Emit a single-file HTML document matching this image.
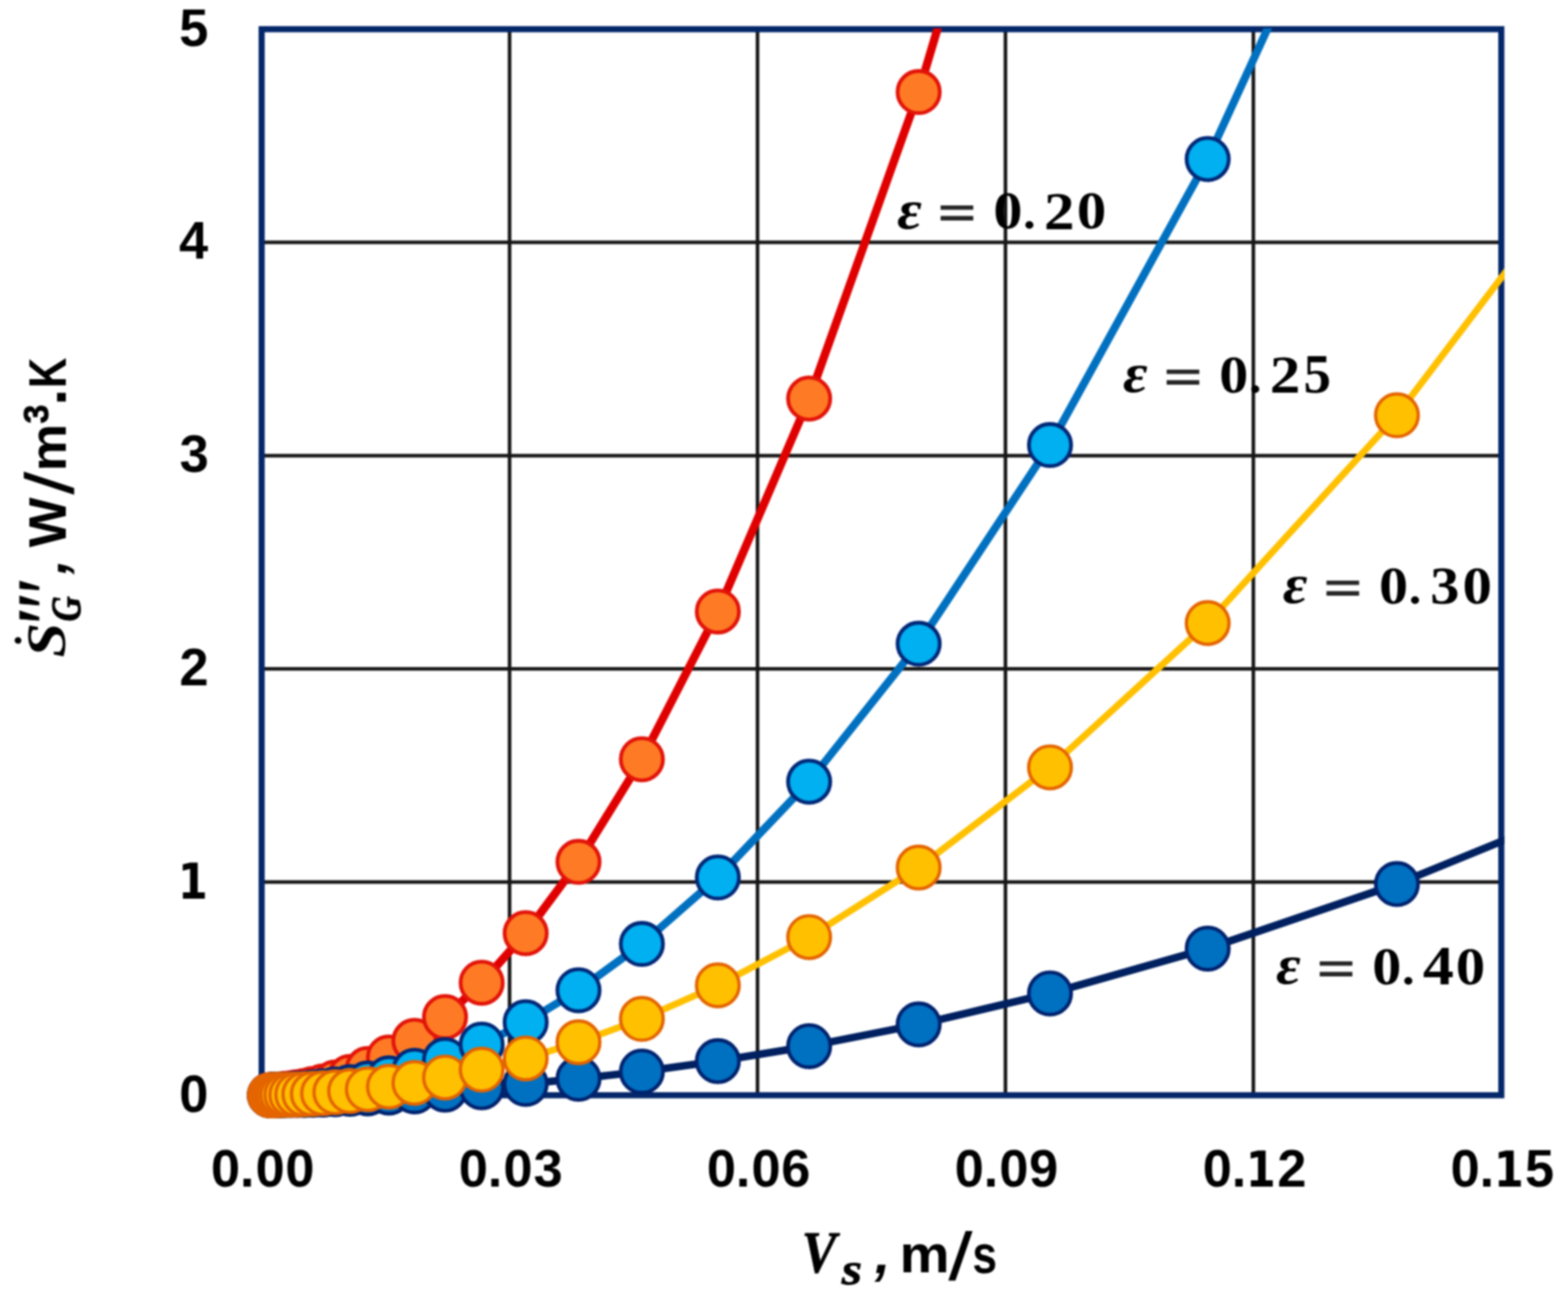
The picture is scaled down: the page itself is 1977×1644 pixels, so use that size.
<!DOCTYPE html>
<html lang="en">
<head>
<meta charset="utf-8">
<title>Entropy generation rate versus superficial velocity</title>
<style>
html,body{margin:0;padding:0;background:#fff;}
body{width:1977px;height:1644px;overflow:hidden;}
svg{display:block;filter:blur(1.20px);}
text{fill:#000;}
.sb{font-family:"Liberation Sans",sans-serif;font-weight:bold;font-style:normal;}
.sbi{font-family:"Liberation Sans",sans-serif;font-weight:bold;font-style:italic;}
.rb{font-family:"Liberation Serif",serif;font-weight:bold;font-style:normal;}
.rbi{font-family:"Liberation Serif",serif;font-weight:bold;font-style:italic;}
.ds{font-family:"DejaVu Sans",sans-serif;font-weight:normal;font-style:normal;}
.dsb{font-family:"DejaVu Sans",sans-serif;font-weight:bold;font-style:normal;}
</style>
</head>
<body>
<svg width="1977" height="1644" viewBox="0 0 1977 1644">
<defs><clipPath id="plot"><rect x="328.9" y="35.8" width="1568.0" height="1346.0"/></clipPath></defs>
<rect x="-20" y="-20" width="2017" height="1684" fill="#fff"/>
<g id="grid" stroke="#161616" stroke-width="4.5" fill="none">
<line x1="642.5" y1="36.8" x2="642.5" y2="1380.8"/>
<line x1="955.1" y1="36.8" x2="955.1" y2="1380.8"/>
<line x1="1267.7" y1="36.8" x2="1267.7" y2="1380.8"/>
<line x1="1580.3" y1="36.8" x2="1580.3" y2="1380.8"/>
<line x1="329.9" y1="1112.0" x2="1892.9" y2="1112.0"/>
<line x1="329.9" y1="843.2" x2="1892.9" y2="843.2"/>
<line x1="329.9" y1="574.4" x2="1892.9" y2="574.4"/>
<line x1="329.9" y1="305.6" x2="1892.9" y2="305.6"/>
</g>
<rect id="frame" x="329.9" y="36.8" width="1563.0" height="1344.0" fill="none" stroke="#04276A" stroke-width="7.7"/>
<g id="labels">
<text><tspan class="rbi" x="1131.3" y="287.6" font-size="69.2" textLength="31.0" lengthAdjust="spacingAndGlyphs">ε</tspan> <tspan fill="#262626" class="ds" x="1179.1" y="290.2" font-size="67.3" textLength="55.1" lengthAdjust="spacingAndGlyphs">=</tspan> <tspan class="rb" x="1252.5" y="288.4" font-size="68.3" textLength="36.6" lengthAdjust="spacingAndGlyphs">0</tspan><tspan class="rb" x="1290.0" y="288.2" font-size="59.7" textLength="15.8" lengthAdjust="spacingAndGlyphs">.</tspan><tspan class="rb" x="1316.2" y="288.5" font-size="68.4" textLength="38.6" lengthAdjust="spacingAndGlyphs">2</tspan><tspan class="rb" x="1357.7" y="288.4" font-size="68.3" textLength="37.1" lengthAdjust="spacingAndGlyphs">0</tspan></text>
<text><tspan class="rbi" x="1416.1" y="494.4" font-size="69.2" textLength="31.0" lengthAdjust="spacingAndGlyphs">ε</tspan> <tspan fill="#262626" class="ds" x="1463.9" y="497.0" font-size="67.3" textLength="55.1" lengthAdjust="spacingAndGlyphs">=</tspan> <tspan class="rb" x="1537.3" y="495.2" font-size="68.3" textLength="36.6" lengthAdjust="spacingAndGlyphs">0</tspan><tspan class="rb" x="1574.8" y="495.0" font-size="59.7" textLength="15.8" lengthAdjust="spacingAndGlyphs">.</tspan><tspan class="rb" x="1601.0" y="495.3" font-size="68.4" textLength="38.6" lengthAdjust="spacingAndGlyphs">2</tspan><tspan class="rb" x="1643.5" y="495.2" font-size="69.3">5</tspan></text>
<text><tspan class="rbi" x="1617.6" y="760.0" font-size="69.2" textLength="31.0" lengthAdjust="spacingAndGlyphs">ε</tspan> <tspan fill="#262626" class="ds" x="1665.4" y="762.6" font-size="67.3" textLength="55.1" lengthAdjust="spacingAndGlyphs">=</tspan> <tspan class="rb" x="1738.8" y="760.8" font-size="68.3" textLength="36.6" lengthAdjust="spacingAndGlyphs">0</tspan><tspan class="rb" x="1776.3" y="760.6" font-size="59.7" textLength="15.8" lengthAdjust="spacingAndGlyphs">.</tspan><tspan class="rb" x="1803.3" y="760.8" font-size="68.3" textLength="36.8" lengthAdjust="spacingAndGlyphs">3</tspan><tspan class="rb" x="1844.0" y="760.8" font-size="68.3" textLength="37.1" lengthAdjust="spacingAndGlyphs">0</tspan></text>
<text><tspan class="rbi" x="1609.1" y="1240.0" font-size="69.2" textLength="31.0" lengthAdjust="spacingAndGlyphs">ε</tspan> <tspan fill="#262626" class="ds" x="1656.9" y="1242.6" font-size="67.3" textLength="55.1" lengthAdjust="spacingAndGlyphs">=</tspan> <tspan class="rb" x="1730.3" y="1240.8" font-size="68.3" textLength="36.6" lengthAdjust="spacingAndGlyphs">0</tspan><tspan class="rb" x="1767.8" y="1240.6" font-size="59.7" textLength="15.8" lengthAdjust="spacingAndGlyphs">.</tspan><tspan class="rb" x="1793.9" y="1240.9" font-size="68.9" textLength="39.1" lengthAdjust="spacingAndGlyphs">4</tspan><tspan class="rb" x="1835.5" y="1240.8" font-size="68.3" textLength="37.1" lengthAdjust="spacingAndGlyphs">0</tspan></text>
</g>
<g id="e40">
<path d="M340.3,1380.7 L342.4,1380.7 L344.9,1380.7 L347.9,1380.7 L351.5,1380.7 L355.8,1380.7 L361.0,1380.6 L367.2,1380.6 L374.7,1380.5 L383.7,1380.4 L394.4,1380.2 L407.3,1380.0 L422.8,1379.6 L441.4,1379.1 L463.7,1378.4 L490.4,1377.4 L522.5,1375.9 L561.1,1373.8 L607.3,1370.8 L662.8,1366.4 L729.4,1360.0 L809.3,1350.9 L905.1,1337.8 L1020.2,1318.9 L1158.3,1291.6 L1323.9,1252.4 L1522.7,1195.9 L1761.3,1114.6 L2047.6,997.5" fill="none" stroke="#002060" stroke-width="9.6" stroke-linejoin="round" clip-path="url(#plot)"/>
<g fill="#0070C0" stroke="#00226E" stroke-width="4.6">
<circle cx="340.3" cy="1380.7" r="26.70"/>
<circle cx="342.4" cy="1380.7" r="26.70"/>
<circle cx="344.9" cy="1380.7" r="26.70"/>
<circle cx="347.9" cy="1380.7" r="26.70"/>
<circle cx="351.5" cy="1380.7" r="26.70"/>
<circle cx="355.8" cy="1380.7" r="26.70"/>
<circle cx="361.0" cy="1380.6" r="26.70"/>
<circle cx="367.2" cy="1380.6" r="26.70"/>
<circle cx="374.7" cy="1380.5" r="26.70"/>
<circle cx="383.7" cy="1380.4" r="26.70"/>
<circle cx="394.4" cy="1380.2" r="26.70"/>
<circle cx="407.3" cy="1380.0" r="26.70"/>
<circle cx="422.8" cy="1379.6" r="26.70"/>
<circle cx="441.4" cy="1379.1" r="26.70"/>
<circle cx="463.7" cy="1378.4" r="26.70"/>
<circle cx="490.4" cy="1377.4" r="26.70"/>
<circle cx="522.5" cy="1375.9" r="26.70"/>
<circle cx="561.1" cy="1373.8" r="26.70"/>
<circle cx="607.3" cy="1370.8" r="26.70"/>
<circle cx="662.8" cy="1366.4" r="26.70"/>
<circle cx="729.4" cy="1360.0" r="26.70"/>
<circle cx="809.3" cy="1350.9" r="26.70"/>
<circle cx="905.1" cy="1337.8" r="26.70"/>
<circle cx="1020.2" cy="1318.9" r="26.70"/>
<circle cx="1158.3" cy="1291.6" r="26.70"/>
<circle cx="1323.9" cy="1252.4" r="26.70"/>
<circle cx="1522.7" cy="1195.9" r="26.70"/>
<circle cx="1761.3" cy="1114.6" r="26.70"/>
</g>
</g>
<g id="e20">
<path d="M340.3,1380.5 L342.4,1380.5 L344.9,1380.3 L347.9,1380.2 L351.5,1379.9 L355.8,1379.5 L361.0,1379.0 L367.2,1378.2 L374.7,1377.1 L383.7,1375.4 L394.4,1373.1 L407.3,1369.7 L422.8,1364.8 L441.4,1357.8 L463.7,1347.8 L490.4,1333.2 L522.5,1312.3 L561.1,1282.3 L607.3,1238.9 L662.8,1176.5 L729.4,1086.6 L809.3,957.2 L905.1,770.9 L1020.2,502.5 L1158.3,116.1 L1323.9,-440.3" fill="none" stroke="#E00000" stroke-width="10.5" stroke-linejoin="round" clip-path="url(#plot)"/>
<g fill="#FF7A24" stroke="#E2140A" stroke-width="4.8">
<circle cx="340.3" cy="1380.5" r="26.60"/>
<circle cx="342.4" cy="1380.5" r="26.60"/>
<circle cx="344.9" cy="1380.3" r="26.60"/>
<circle cx="347.9" cy="1380.2" r="26.60"/>
<circle cx="351.5" cy="1379.9" r="26.60"/>
<circle cx="355.8" cy="1379.5" r="26.60"/>
<circle cx="361.0" cy="1379.0" r="26.60"/>
<circle cx="367.2" cy="1378.2" r="26.60"/>
<circle cx="374.7" cy="1377.1" r="26.60"/>
<circle cx="383.7" cy="1375.4" r="26.60"/>
<circle cx="394.4" cy="1373.1" r="26.60"/>
<circle cx="407.3" cy="1369.7" r="26.60"/>
<circle cx="422.8" cy="1364.8" r="26.60"/>
<circle cx="441.4" cy="1357.8" r="26.60"/>
<circle cx="463.7" cy="1347.8" r="26.60"/>
<circle cx="490.4" cy="1333.2" r="26.60"/>
<circle cx="522.5" cy="1312.3" r="26.60"/>
<circle cx="561.1" cy="1282.3" r="26.60"/>
<circle cx="607.3" cy="1238.9" r="26.60"/>
<circle cx="662.8" cy="1176.5" r="26.60"/>
<circle cx="729.4" cy="1086.6" r="26.60"/>
<circle cx="809.3" cy="957.2" r="26.60"/>
<circle cx="905.1" cy="770.9" r="26.60"/>
<circle cx="1020.2" cy="502.5" r="26.60"/>
<circle cx="1158.3" cy="116.1" r="26.60"/>
</g>
</g>
<g id="e25">
<path d="M340.3,1380.7 L342.4,1380.6 L344.9,1380.6 L347.9,1380.5 L351.5,1380.4 L355.8,1380.2 L361.0,1379.9 L367.2,1379.6 L374.7,1379.1 L383.7,1378.4 L394.4,1377.3 L407.3,1375.8 L422.8,1373.6 L441.4,1370.4 L463.7,1365.9 L490.4,1359.4 L522.5,1350.0 L561.1,1336.4 L607.3,1316.9 L662.8,1288.8 L729.4,1248.4 L809.3,1190.1 L905.1,1106.3 L1020.2,985.5 L1158.3,811.6 L1323.9,561.1 L1522.7,200.5 L1761.3,-318.8" fill="none" stroke="#0070C0" stroke-width="10.0" stroke-linejoin="round" clip-path="url(#plot)"/>
<g fill="#00B0F0" stroke="#002878" stroke-width="4.8">
<circle cx="340.3" cy="1380.7" r="26.60"/>
<circle cx="342.4" cy="1380.6" r="26.60"/>
<circle cx="344.9" cy="1380.6" r="26.60"/>
<circle cx="347.9" cy="1380.5" r="26.60"/>
<circle cx="351.5" cy="1380.4" r="26.60"/>
<circle cx="355.8" cy="1380.2" r="26.60"/>
<circle cx="361.0" cy="1379.9" r="26.60"/>
<circle cx="367.2" cy="1379.6" r="26.60"/>
<circle cx="374.7" cy="1379.1" r="26.60"/>
<circle cx="383.7" cy="1378.4" r="26.60"/>
<circle cx="394.4" cy="1377.3" r="26.60"/>
<circle cx="407.3" cy="1375.8" r="26.60"/>
<circle cx="422.8" cy="1373.6" r="26.60"/>
<circle cx="441.4" cy="1370.4" r="26.60"/>
<circle cx="463.7" cy="1365.9" r="26.60"/>
<circle cx="490.4" cy="1359.4" r="26.60"/>
<circle cx="522.5" cy="1350.0" r="26.60"/>
<circle cx="561.1" cy="1336.4" r="26.60"/>
<circle cx="607.3" cy="1316.9" r="26.60"/>
<circle cx="662.8" cy="1288.8" r="26.60"/>
<circle cx="729.4" cy="1248.4" r="26.60"/>
<circle cx="809.3" cy="1190.1" r="26.60"/>
<circle cx="905.1" cy="1106.3" r="26.60"/>
<circle cx="1020.2" cy="985.5" r="26.60"/>
<circle cx="1158.3" cy="811.6" r="26.60"/>
<circle cx="1323.9" cy="561.1" r="26.60"/>
<circle cx="1522.7" cy="200.5" r="26.60"/>
</g>
</g>
<g id="e30">
<path d="M340.3,1380.7 L342.4,1380.7 L344.9,1380.7 L347.9,1380.6 L351.5,1380.6 L355.8,1380.5 L361.0,1380.3 L367.2,1380.2 L374.7,1379.9 L383.7,1379.5 L394.4,1379.0 L407.3,1378.2 L422.8,1377.1 L441.4,1375.6 L463.7,1373.3 L490.4,1370.0 L522.5,1365.2 L561.1,1358.4 L607.3,1348.6 L662.8,1334.4 L729.4,1314.0 L809.3,1284.6 L905.1,1242.3 L1020.2,1181.4 L1158.3,1093.7 L1323.9,967.4 L1522.7,785.5 L1761.3,523.6 L2047.6,146.4" fill="none" stroke="#FFC000" stroke-width="8.5" stroke-linejoin="round" clip-path="url(#plot)"/>
<g fill="#FFC000" stroke="#E46400" stroke-width="4.2">
<circle cx="340.3" cy="1380.7" r="26.90"/>
<circle cx="342.4" cy="1380.7" r="26.90"/>
<circle cx="344.9" cy="1380.7" r="26.90"/>
<circle cx="347.9" cy="1380.6" r="26.90"/>
<circle cx="351.5" cy="1380.6" r="26.90"/>
<circle cx="355.8" cy="1380.5" r="26.90"/>
<circle cx="361.0" cy="1380.3" r="26.90"/>
<circle cx="367.2" cy="1380.2" r="26.90"/>
<circle cx="374.7" cy="1379.9" r="26.90"/>
<circle cx="383.7" cy="1379.5" r="26.90"/>
<circle cx="394.4" cy="1379.0" r="26.90"/>
<circle cx="407.3" cy="1378.2" r="26.90"/>
<circle cx="422.8" cy="1377.1" r="26.90"/>
<circle cx="441.4" cy="1375.6" r="26.90"/>
<circle cx="463.7" cy="1373.3" r="26.90"/>
<circle cx="490.4" cy="1370.0" r="26.90"/>
<circle cx="522.5" cy="1365.2" r="26.90"/>
<circle cx="561.1" cy="1358.4" r="26.90"/>
<circle cx="607.3" cy="1348.6" r="26.90"/>
<circle cx="662.8" cy="1334.4" r="26.90"/>
<circle cx="729.4" cy="1314.0" r="26.90"/>
<circle cx="809.3" cy="1284.6" r="26.90"/>
<circle cx="905.1" cy="1242.3" r="26.90"/>
<circle cx="1020.2" cy="1181.4" r="26.90"/>
<circle cx="1158.3" cy="1093.7" r="26.90"/>
<circle cx="1323.9" cy="967.4" r="26.90"/>
<circle cx="1522.7" cy="785.5" r="26.90"/>
<circle cx="1761.3" cy="523.6" r="26.90"/>
</g>
</g>
<g id="xticks">
<text class="sb" font-size="66.0" y="1496.0"><tspan x="266.0">0</tspan><tspan x="302.5">.</tspan><tspan x="322.2">0</tspan><tspan x="359.8">0</tspan></text>
<text class="sb" font-size="66.0" y="1496.0"><tspan x="578.6">0</tspan><tspan x="615.1">.</tspan><tspan x="634.8">0</tspan><tspan x="672.8">3</tspan></text>
<text class="sb" font-size="66.0" y="1496.0"><tspan x="891.2">0</tspan><tspan x="927.7">.</tspan><tspan x="947.4">0</tspan><tspan x="984.9">6</tspan></text>
<text class="sb" font-size="66.0" y="1496.0"><tspan x="1203.8">0</tspan><tspan x="1240.3">.</tspan><tspan x="1260.0">0</tspan><tspan x="1297.6">9</tspan></text>
<text class="sb" font-size="66.0" y="1496.0"><tspan x="1516.4">0</tspan><tspan x="1552.9">.</tspan><tspan class="dsb" x="1570.8" y="1496.0" font-size="62.2" textLength="37.8" lengthAdjust="spacingAndGlyphs">1</tspan><tspan x="1610.4">2</tspan></text>
<text class="sb" font-size="66.0" y="1496.0"><tspan x="1829.0">0</tspan><tspan x="1865.5">.</tspan><tspan class="dsb" x="1883.4" y="1496.0" font-size="62.2" textLength="37.8" lengthAdjust="spacingAndGlyphs">1</tspan><tspan x="1922.7">5</tspan></text>
</g>
<g id="yticks">
<text class="sb" font-size="66.0" y="57.6"><tspan x="226.0">5</tspan></text>
<text class="sb" font-size="66.0" y="326.4"><tspan x="225.8">4</tspan></text>
<text class="sb" font-size="66.0" y="595.2"><tspan x="226.5">3</tspan></text>
<text class="sb" font-size="66.0" y="864.0"><tspan x="226.2">2</tspan></text>
<text class="sb" font-size="66.0" y="1132.8"><tspan class="dsb" x="224.3" y="1132.8" font-size="62.2" textLength="37.8" lengthAdjust="spacingAndGlyphs">1</tspan></text>
<text class="sb" font-size="66.0" y="1401.5"><tspan x="226.1">0</tspan></text>
</g>
<text id="xtitle"><tspan stroke="#000" stroke-width="1.0" class="rbi" x="1011.0" y="1603.7" font-size="73.6" textLength="43.5" lengthAdjust="spacingAndGlyphs">V</tspan><tspan stroke="#000" stroke-width="0.8" class="rbi" x="1061.2" y="1619.3" font-size="56.9" textLength="25.8" lengthAdjust="spacingAndGlyphs">s</tspan> <tspan class="sbi" x="1103.1" y="1604.6" font-size="71.1">,</tspan> <tspan class="sb" x="1134.2" y="1604.4" font-size="67.3" textLength="63.0" lengthAdjust="spacingAndGlyphs">m</tspan><tspan class="sbi" x="1198.5" y="1613.3" font-size="83.9" textLength="21.1" lengthAdjust="spacingAndGlyphs">/</tspan><tspan class="sb" x="1226.0" y="1604.5" font-size="67.6" textLength="31.1" lengthAdjust="spacingAndGlyphs">s</tspan></text>
<g transform="translate(83.2,828) rotate(-90)">
<text id="ytitle"><tspan class="rbi" x="-0.9" y="-1.5" font-size="70.0" textLength="43.9" lengthAdjust="spacingAndGlyphs">S</tspan><tspan class="rbi" x="8.1" y="-24.5" font-size="56.0">˙</tspan><tspan stroke="#000" stroke-width="1.2" class="rbi" x="39.5" y="9.0" font-size="101.3" textLength="22.3" lengthAdjust="spacingAndGlyphs">′</tspan><tspan stroke="#000" stroke-width="1.2" class="rbi" x="59.2" y="9.0" font-size="101.3" textLength="21.0" lengthAdjust="spacingAndGlyphs">′</tspan><tspan stroke="#000" stroke-width="1.2" class="rbi" x="78.6" y="9.0" font-size="101.3" textLength="20.5" lengthAdjust="spacingAndGlyphs">′</tspan><tspan stroke="#000" stroke-width="1.1" class="rbi" x="44.5" y="17.5" font-size="53.2" textLength="31.8" lengthAdjust="spacingAndGlyphs">G</tspan> <tspan class="sbi" x="104.0" y="-0.5" font-size="66.9" textLength="19.0" lengthAdjust="spacingAndGlyphs">,</tspan> <tspan class="sb" x="138.1" y="-0.1" font-size="66.6">W</tspan><tspan class="sbi" x="207.0" y="8.5" font-size="85.2" textLength="20.1" lengthAdjust="spacingAndGlyphs">/</tspan><tspan class="sb" x="233.8" y="0.0" font-size="64.7" textLength="59.9" lengthAdjust="spacingAndGlyphs">m</tspan><tspan stroke="#000" stroke-width="0.9" class="sb" x="294.0" y="-22.3" font-size="44.5" textLength="23.9" lengthAdjust="spacingAndGlyphs">3</tspan><tspan class="sb" x="316.6" y="0.0" font-size="74.7" textLength="21.6" lengthAdjust="spacingAndGlyphs">.</tspan><tspan class="sb" x="338.7" y="0.0" font-size="67.3" textLength="38.2" lengthAdjust="spacingAndGlyphs">K</tspan></text>
</g>
</svg>
</body>
</html>
